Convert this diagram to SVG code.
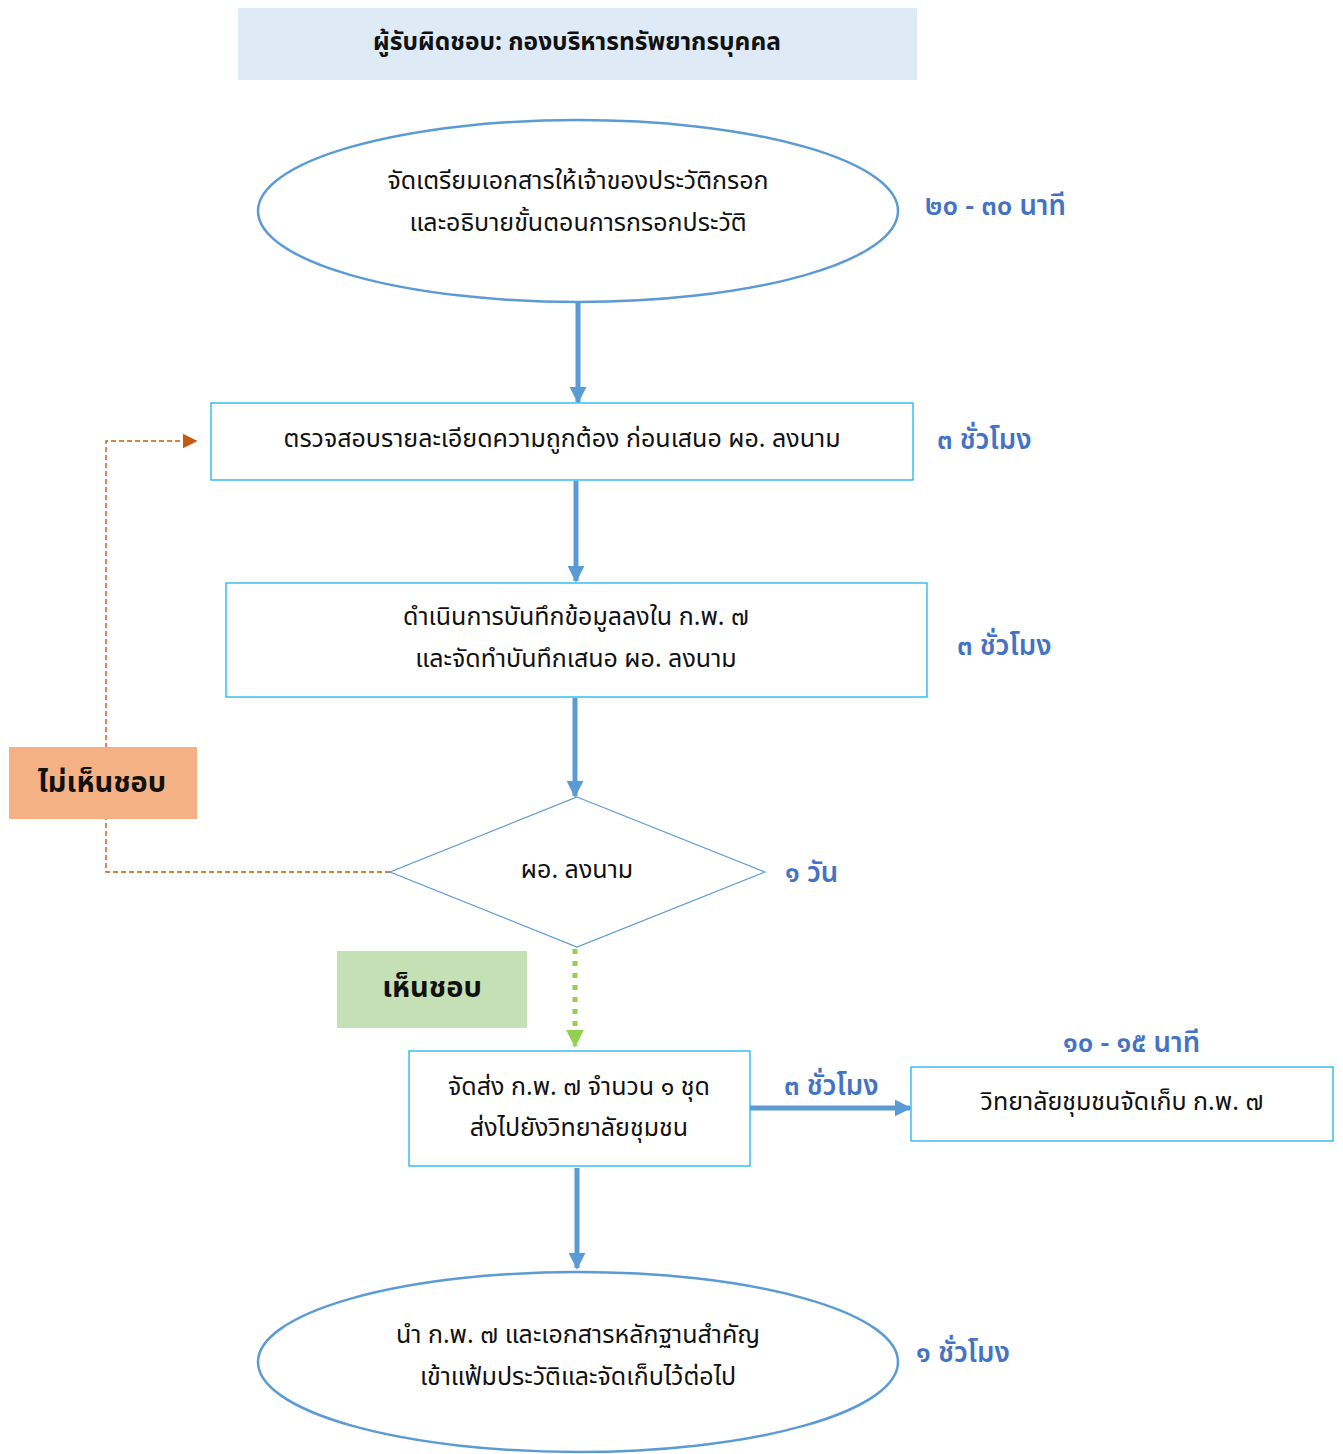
<svg xmlns="http://www.w3.org/2000/svg" width="1343" height="1454" viewBox="0 0 1343 1454">
<style>
.t{font-family:"Noto Sans Thai","Noto Sans","DejaVu Sans",sans-serif;font-size:25px;fill:#111;text-anchor:middle;dominant-baseline:central}
.b{font-weight:bold}
.lbl{font-family:"Noto Sans Thai","Noto Sans","DejaVu Sans",sans-serif;font-size:27.5px;font-weight:600;fill:#4472c4;dominant-baseline:central}
.main{stroke:#5b9bd5;stroke-width:5;fill:none}
.box{fill:#fff;stroke:#00b0f0;stroke-width:1.2}
.ell{fill:#fff;stroke:#5b9bd5;stroke-width:2.5}
</style>
<defs>
<marker id="ab" viewBox="0 0 10 10" refX="9" refY="5" markerWidth="3.4" markerHeight="3.4" orient="auto" markerUnits="strokeWidth"><path d="M0,0L10,5L0,10z" fill="#5b9bd5"/></marker>
<marker id="ao" viewBox="0 0 10 10" refX="9" refY="5" markerWidth="15" markerHeight="15" orient="auto" markerUnits="userSpaceOnUse"><path d="M0,0L10,5L0,10z" fill="#c55a11"/></marker>
<marker id="ag" viewBox="0 0 10 10" refX="9" refY="5" markerWidth="3.6" markerHeight="3.6" orient="auto" markerUnits="strokeWidth"><path d="M0,0L10,5L0,10z" fill="#92d050"/></marker>
</defs>

<g id="header">
<rect x="238" y="8" width="679" height="72" fill="#deeaf6"/>
<text class="t b" x="577" y="42" style="font-size:24.5px">ผู้รับผิดชอบ: กองบริหารทรัพยากรบุคคล</text>
</g>

<g id="connectors">
<line class="main" x1="578" y1="303" x2="578" y2="402" marker-end="url(#ab)"/>
<line class="main" x1="576" y1="481" x2="576" y2="581" marker-end="url(#ab)"/>
<line class="main" x1="575" y1="698" x2="575" y2="796" marker-end="url(#ab)"/>
<line x1="575" y1="949" x2="575" y2="1046" stroke="#92d050" stroke-width="5" stroke-dasharray="5,7" marker-end="url(#ag)"/>
<line class="main" x1="750" y1="1108" x2="910" y2="1108" marker-end="url(#ab)"/>
<line class="main" x1="577" y1="1168" x2="577" y2="1268" marker-end="url(#ab)"/>
<polyline points="390,872 106,872 106,441 196,441" fill="none" stroke="#c55a11" stroke-width="1.4" stroke-dasharray="5,3" marker-end="url(#ao)"/>
</g>

<g id="n1">
<ellipse class="ell" cx="578" cy="211" rx="320" ry="91"/>
<text class="t" x="578" y="181">จัดเตรียมเอกสารให้เจ้าของประวัติกรอก</text>
<text class="t" x="578" y="223">และอธิบายขั้นตอนการกรอกประวัติ</text>
</g>
<text class="lbl" x="925" y="206">๒๐ - ๓๐ นาที</text>

<g id="n2">
<rect class="box" x="211" y="403" width="702" height="77"/>
<text class="t" x="562" y="439">ตรวจสอบรายละเอียดความถูกต้อง ก่อนเสนอ ผอ. ลงนาม</text>
</g>
<text class="lbl" x="937" y="440">๓ ชั่วโมง</text>

<g id="n3">
<rect class="box" x="226" y="583" width="701" height="114"/>
<text class="t" x="576" y="617">ดำเนินการบันทึกข้อมูลลงใน ก.พ. ๗</text>
<text class="t" x="576" y="659">และจัดทำบันทึกเสนอ ผอ. ลงนาม</text>
</g>
<text class="lbl" x="957" y="646">๓ ชั่วโมง</text>

<g id="n4">
<polygon points="577,797 765,872 577,947 390,872" fill="#fff" stroke="#5b9bd5" stroke-width="1.2"/>
<text class="t" x="577" y="870">ผอ. ลงนาม</text>
</g>
<text class="lbl" x="785" y="873">๑ วัน</text>

<g id="reject">
<rect x="9" y="747" width="188" height="72" fill="#f4b183"/>
<text class="t b" x="102" y="783" style="font-size:29px">ไม่เห็นชอบ</text>
</g>

<g id="approve">
<rect x="337" y="951" width="190" height="77" fill="#c5e0b4"/>
<text class="t b" x="432" y="988" style="font-size:29px">เห็นชอบ</text>
</g>

<g id="n5">
<rect class="box" x="409" y="1051" width="341" height="115"/>
<text class="t" x="579" y="1087">จัดส่ง ก.พ. ๗ จำนวน ๑ ชุด</text>
<text class="t" x="579" y="1128">ส่งไปยังวิทยาลัยชุมชน</text>
</g>
<text class="lbl" x="784" y="1086">๓ ชั่วโมง</text>

<g id="n6">
<rect class="box" x="911" y="1067" width="422" height="74"/>
<text class="t" x="1122" y="1102">วิทยาลัยชุมชนจัดเก็บ ก.พ. ๗</text>
</g>
<text class="lbl" x="1063" y="1043">๑๐ - ๑๕ นาที</text>

<g id="n7">
<ellipse class="ell" cx="578" cy="1362" rx="320" ry="90"/>
<text class="t" x="578" y="1335">นำ ก.พ. ๗ และเอกสารหลักฐานสำคัญ</text>
<text class="t" x="578" y="1377">เข้าแฟ้มประวัติและจัดเก็บไว้ต่อไป</text>
</g>
<text class="lbl" x="916" y="1353">๑ ชั่วโมง</text>
</svg>
